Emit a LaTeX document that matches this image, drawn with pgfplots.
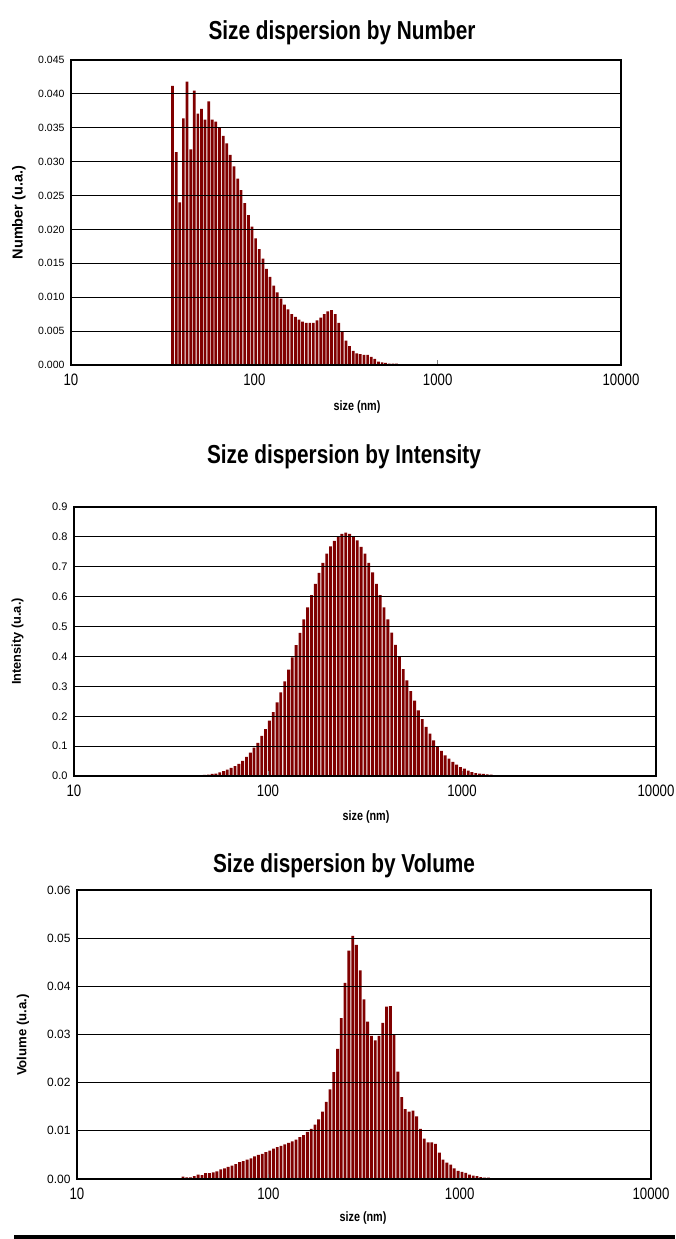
\documentclass[border=0pt]{standalone}
\usepackage{fontspec}
\setmainfont{Liberation Sans}
\newfontfamily\narrowfont[FakeStretch=0.8]{Liberation Sans}
\newfontfamily\titlefont[FakeStretch=0.80]{Liberation Sans}
\usepackage{pgfplots}
\usepackage{pgfplotstable}
\pgfplotsset{compat=1.18}
\definecolor{barred}{HTML}{800000}

% L = log10(size/nm); one bin grid shared by the three distributions
\pgfplotstableread{
L     num      int     vol
1.554 0.0412   0.0003  0.00049
1.574 0.0314   0.0006  0.00035
1.593 0.0240   0.0010  0.00035
1.613 0.0364   0.0010  0.0006
1.633 0.0418   0.0015  0.0009
1.653 0.0318   0.0020  0.0008
1.672 0.0405   0.0035  0.0012
1.692 0.0371   0.0045  0.0012
1.712 0.0378   0.0070  0.0014
1.731 0.0362   0.0080  0.0016
1.751 0.0389   0.0120  0.0020
1.771 0.0362   0.0160  0.0022
1.790 0.0359   0.0210  0.0025
1.810 0.0351   0.0270  0.0028
1.830 0.0338   0.0330  0.0031
1.850 0.0327   0.0410  0.0035
1.869 0.0310   0.0510  0.0037
1.889 0.0293   0.0640  0.0040
1.909 0.0275   0.0780  0.0043
1.928 0.0258   0.0950  0.0047
1.948 0.0239   0.1110  0.0050
1.968 0.0221   0.1340  0.0052
1.987 0.0204   0.1570  0.0056
2.007 0.0187   0.1850  0.0059
2.027 0.0171   0.2140  0.0063
2.047 0.0157   0.2460  0.0066
2.066 0.0142   0.2800  0.0069
2.086 0.0130   0.3170  0.0072
2.106 0.0117   0.3560  0.0075
2.125 0.0107   0.3970  0.0078
2.145 0.0098   0.4380  0.0082
2.165 0.0089   0.4790  0.0087
2.184 0.0082   0.5240  0.0091
2.204 0.0075   0.5640  0.0098
2.224 0.0071   0.6050  0.0104
2.244 0.0067   0.6430  0.0113
2.263 0.0064   0.6800  0.0124
2.283 0.0062   0.7130  0.0140
2.303 0.0062   0.7440  0.0160
2.322 0.0062   0.7680  0.0186
2.342 0.0066   0.7870  0.0222
2.362 0.0070   0.8020  0.0270
2.381 0.0075   0.8100  0.0334
2.401 0.0079   0.8140  0.0407
2.421 0.0081   0.8100  0.0474
2.441 0.0075   0.8030  0.0505
2.460 0.0062   0.7880  0.0486
2.480 0.0049   0.7670  0.0433
2.500 0.0036   0.7440  0.0373
2.519 0.0028   0.7130  0.0327
2.539 0.0021   0.6810  0.0297
2.559 0.0017   0.6430  0.0288
2.578 0.0016   0.6050  0.0297
2.598 0.0015   0.5640  0.0324
2.618 0.0015   0.5240  0.0358
2.638 0.0012   0.4800  0.0359
2.657 0.0009   0.4390  0.0300
2.677 0.0005   0.3980  0.0223
2.697 0.0004   0.3580  0.0170
2.716 0.0003   0.3200  0.0145
2.736 0.0002   0.2840  0.0140
2.756 0.0002   0.2520  0.0142
2.775 0.0002   0.2200  0.0130
2.795 0.0001   0.1900  0.0104
2.815 0.0001   0.1640  0.0084
2.835 0.0001   0.1420  0.0076
2.854 0.00008  0.1190  0.0076
2.874 0.00006  0.1000  0.0073
2.894 0.00005  0.0840  0.0055
2.913 0.00004  0.0690  0.0040
2.933 0.00003  0.0580  0.0034
2.953 0.00002  0.0470  0.0030
2.972 0.00002  0.0380  0.0022
2.992 0        0.0300  0.0017
3.012 0        0.0250  0.0015
3.032 0        0.0180  0.0013
3.051 0        0.0130  0.0009
3.071 0        0.0100  0.0007
3.091 0        0.0080  0.0006
3.110 0        0.0070  0.0004
3.130 0        0.0055  0.0003
3.150 0        0.0045  0.0003
3.169 0        0.0020  0.0002
3.189 0        0.0020  0.0001
3.209 0        0.0010  0.0001
3.229 0        0.0010  0.0001
3.248 0        0.0005  0.00005
3.268 0        0.0003  0.00005
}\dls

\pgfplotsset{
  dlsaxis/.style={
    scale only axis, anchor=south west,
    xmin=1, xmax=4, ymin=0,
    xtick={1,2,3,4}, xticklabels={10,100,1000,10000},
    xtick pos=bottom,
    scaled y ticks=false,
    ymajorgrids, grid style={black, line width=1.1pt},
    axis line style={black, line width=1.2pt},
    axis on top,
    tick align=inside, major tick length=5pt,
    ytick style={draw=none},
    xtick style={gray, line width=0.8pt},
    /pgf/number format/assume math mode=true,
    xticklabel style={font=\narrowfont\fontsize{16.5}{16.5}\selectfont, yshift=-5pt},
    yticklabel style={font=\fontsize{11}{11}\selectfont, xshift=-3pt},
  },
  dlsbar/.style={ybar, bar width=0.0148, fill=barred, draw=none},
}

\begin{document}
\begin{tikzpicture}
\path[use as bounding box] (0,0) rectangle (675pt,-1239pt);

% ---- by Number
\node[font=\titlefont\bfseries\fontsize{26}{26}\selectfont, anchor=base] at (342pt,-40pt) {Size dispersion by Number};
\begin{axis}[dlsaxis, at={(71pt,-365pt)}, width=550pt, height=305pt,
  ymax=0.045,
  ytick={0,0.005,0.01,0.015,0.02,0.025,0.03,0.035,0.04,0.045},
  yticklabel style={font=\fontsize{10.5}{10.5}\selectfont,
    /pgf/number format/.cd, fixed, fixed zerofill, precision=3}]
  \addplot[dlsbar] table[x=L, y=num] {\dls};
\end{axis}
\node[rotate=90, font=\bfseries\fontsize{14.5}{14.5}\selectfont] at (19pt,-212.5pt) {Number (u.a.)};
\node[font=\narrowfont\bfseries\fontsize{13.5}{13.5}\selectfont] at (357pt,-407pt) {size (nm)};

% ---- by Intensity
\node[font=\titlefont\bfseries\fontsize{26}{26}\selectfont, anchor=base] at (344pt,-463pt) {Size dispersion by Intensity};
\begin{axis}[dlsaxis, at={(74pt,-776pt)}, width=582pt, height=269pt,
  ymax=0.9,
  ytick={0,0.1,0.2,0.3,0.4,0.5,0.6,0.7,0.8,0.9},
  yticklabel style={/pgf/number format/.cd, fixed, fixed zerofill, precision=1}]
  \addplot[dlsbar] table[x=L, y=int] {\dls};
\end{axis}
\node[rotate=90, font=\bfseries\fontsize{12.8}{12.8}\selectfont] at (17.5pt,-641.5pt) {Intensity (u.a.)};
\node[font=\narrowfont\bfseries\fontsize{13.5}{13.5}\selectfont] at (366pt,-817pt) {size (nm)};

% ---- by Volume
\node[font=\titlefont\bfseries\fontsize{26}{26}\selectfont, anchor=base] at (344pt,-872pt) {Size dispersion by Volume};
\begin{axis}[dlsaxis, at={(77pt,-1179pt)}, width=574pt, height=289pt,
  ymax=0.06,
  ytick={0,0.01,0.02,0.03,0.04,0.05,0.06},
  yticklabel style={font=\fontsize{12}{12}\selectfont,
    /pgf/number format/.cd, fixed, fixed zerofill, precision=2}]
  \addplot[dlsbar] table[x=L, y=vol] {\dls};
\end{axis}
\node[rotate=90, font=\bfseries\fontsize{13.2}{13.2}\selectfont] at (23pt,-1035pt) {Volume (u.a.)};
\node[font=\narrowfont\bfseries\fontsize{13.5}{13.5}\selectfont] at (363pt,-1218pt) {size (nm)};

\fill[black] (14pt,-1235pt) rectangle (675pt,-1239pt);
\end{tikzpicture}
\end{document}
